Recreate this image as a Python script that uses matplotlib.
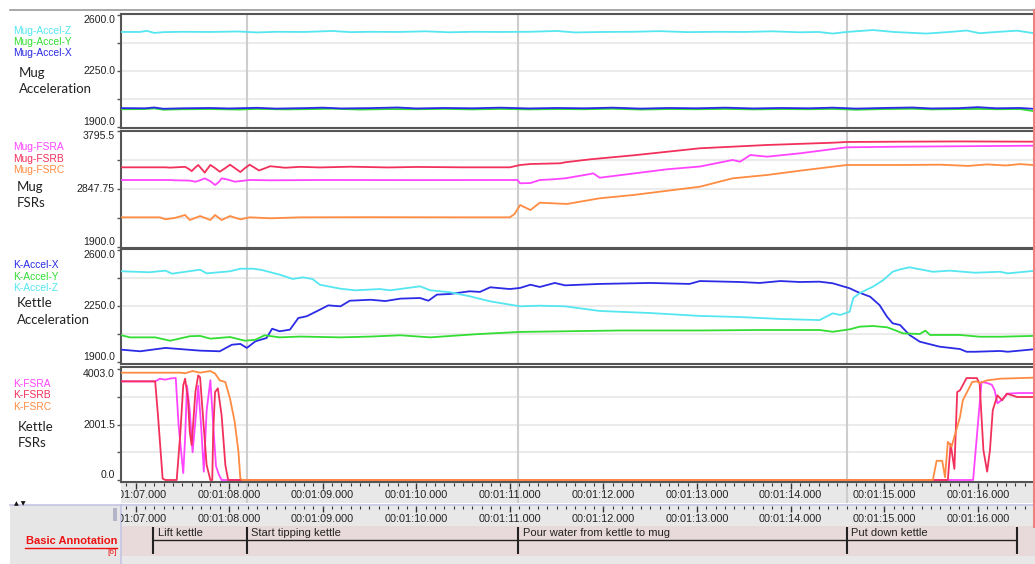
import matplotlib
matplotlib.use("Agg")
import matplotlib.pyplot as plt
from matplotlib.patches import Rectangle
from matplotlib.transforms import blended_transform_factory

# ---------------- data ----------------
x_range = (66.845, 76.59)
time_ticks = [67, 68, 69, 70, 71, 72, 73, 74, 75, 76]
time_labels = ["00:01:07.000", "00:01:08.000", "00:01:09.000", "00:01:10.000",
               "00:01:11.000", "00:01:12.000", "00:01:13.000", "00:01:14.000",
               "00:01:15.000", "00:01:16.000"]

annotation_names = ["Lift kettle", "Start tipping kettle",
                    "Pour water from kettle to mug", "Put down kettle"]
annotation_starts = [67.19, 68.19, 71.09, 74.60]
annotation_end = 76.42
marker_times = [68.19, 71.09, 74.60]

# Mug acceleration
mug_accel_z = [(66.85, 2494), (67.05, 2494), (67.12, 2501), (67.2, 2488), (67.3, 2493),
               (67.5, 2495), (67.8, 2494), (68.1, 2497), (68.3, 2491), (68.5, 2495),
               (68.8, 2494), (69.1, 2500), (69.3, 2493), (69.5, 2495), (69.8, 2494),
               (70.1, 2498), (70.35, 2492), (70.6, 2495), (70.9, 2494), (71.2, 2495),
               (71.5, 2500), (71.7, 2491), (72.0, 2494), (72.3, 2495), (72.6, 2499),
               (72.9, 2493), (73.2, 2495), (73.5, 2494), (73.8, 2498), (74.1, 2492),
               (74.3, 2494), (74.45, 2484), (74.6, 2494), (74.88, 2506), (75.1, 2494),
               (75.45, 2484), (75.7, 2494), (75.88, 2503), (76.02, 2486), (76.2, 2494),
               (76.42, 2502), (76.59, 2487)]
mug_accel_y = [(66.85, 2011), (67.1, 2012), (67.2, 2016), (67.3, 2008), (67.5, 2011),
               (67.8, 2012), (68.1, 2009), (68.3, 2013), (68.6, 2010), (68.9, 2012),
               (69.1, 2014), (69.4, 2009), (69.7, 2012), (70.0, 2011), (70.3, 2013),
               (70.6, 2010), (70.9, 2013), (71.2, 2010), (71.5, 2012), (71.8, 2011),
               (72.1, 2014), (72.4, 2009), (72.7, 2012), (73.0, 2011), (73.3, 2013),
               (73.6, 2010), (73.9, 2012), (74.2, 2011), (74.45, 2013), (74.7, 2008),
               (75.0, 2012), (75.3, 2014), (75.5, 2010), (75.8, 2012), (76.0, 2013),
               (76.2, 2011), (76.45, 2012), (76.59, 2000)]
mug_accel_x = [(66.85, 2018), (67.1, 2017), (67.2, 2022), (67.3, 2014), (67.5, 2017),
               (67.8, 2019), (68.0, 2016), (68.3, 2020), (68.5, 2015), (68.8, 2018),
               (69.0, 2021), (69.2, 2016), (69.5, 2018), (69.8, 2022), (70.0, 2016),
               (70.3, 2019), (70.6, 2017), (70.9, 2021), (71.2, 2016), (71.5, 2019),
               (71.8, 2017), (72.1, 2021), (72.4, 2015), (72.7, 2019), (73.0, 2017),
               (73.3, 2021), (73.6, 2016), (73.9, 2019), (74.2, 2017), (74.45, 2021),
               (74.7, 2015), (75.0, 2019), (75.3, 2022), (75.5, 2016), (75.8, 2018),
               (76.0, 2024), (76.2, 2017), (76.45, 2019), (76.59, 2014)]

# Mug FSRs
mug_fsra = [(66.85, 2995), (67.37, 2995), (67.42, 2990), (67.58, 2985), (67.64, 2967),
            (67.69, 2990), (67.74, 3022), (67.80, 2975), (67.85, 2913), (67.89, 2960),
            (67.92, 3022), (67.99, 3000), (68.06, 2967), (68.22, 2995),
            (68.44, 2990), (69.0, 2995), (70.0, 2993), (71.08, 2995), (71.11, 2941),
            (71.22, 2945), (71.32, 2995), (71.46, 3006), (71.59, 3022), (71.86, 3093),
            (71.89, 3104), (71.96, 3032), (72.68, 3170), (73.03, 3215), (73.38, 3322),
            (73.46, 3294), (73.57, 3403), (73.75, 3376), (74.10, 3431), (74.60, 3529),
            (75.17, 3539), (76.59, 3555)]
mug_fsrb = [(66.85, 3202), (67.32, 3202), (67.37, 3197), (67.53, 3210), (67.57, 3175),
            (67.60, 3140), (67.64, 3200), (67.67, 3240), (67.71, 3170), (67.74, 3115),
            (67.77, 3180), (67.80, 3240), (67.85, 3190), (67.90, 3130), (67.96, 3190),
            (68.01, 3245), (68.07, 3180), (68.12, 3125), (68.17, 3190), (68.22, 3245),
            (68.32, 3150), (68.44, 3220), (68.6, 3195),
            (68.76, 3210), (68.97, 3200), (69.3, 3212), (69.7, 3200), (70.0, 3208),
            (70.5, 3202), (71.0, 3202), (71.11, 3240), (71.22, 3256), (71.54, 3268),
            (71.59, 3284), (71.86, 3333), (72.32, 3398), (73.03, 3513), (73.75, 3567),
            (74.45, 3604), (74.60, 3616), (75.17, 3621), (75.8, 3625), (76.59, 3621)]
mug_fsrc = [(66.85, 2385), (67.26, 2385), (67.32, 2352), (67.42, 2375), (67.53, 2423),
            (67.58, 2341), (67.69, 2406), (67.80, 2341), (67.85, 2423), (67.92, 2341),
            (68.01, 2406), (68.12, 2352), (68.22, 2385), (68.44, 2369), (68.76, 2385),
            (69.5, 2387), (70.5, 2385), (71.00, 2385), (71.05, 2439), (71.11, 2586),
            (71.22, 2504), (71.32, 2624), (71.61, 2603), (71.96, 2696), (72.32, 2750),
            (73.03, 2885), (73.38, 3022), (73.75, 3077), (74.10, 3147), (74.45, 3212),
            (74.60, 3240), (75.17, 3240), (75.6, 3245), (75.9, 3225), (76.1, 3250),
            (76.3, 3232), (76.45, 3255), (76.59, 3240)]

# Kettle acceleration
k_accel_x = [(66.85, 1977), (67.05, 1967), (67.32, 1988), (67.69, 1971), (67.90, 1967),
             (68.03, 2008), (68.12, 2013), (68.19, 1988), (68.28, 2029), (68.40, 2050),
             (68.46, 2108), (68.54, 2092), (68.65, 2102), (68.74, 2175), (68.83, 2186),
             (68.97, 2227), (69.06, 2254), (69.19, 2248), (69.29, 2283), (69.51, 2289),
             (69.67, 2281), (69.83, 2296), (70.04, 2300), (70.13, 2283), (70.22, 2321),
             (70.36, 2325), (70.57, 2342), (70.68, 2338), (70.79, 2367), (71.00, 2356),
             (71.11, 2363), (71.22, 2383), (71.32, 2369), (71.48, 2394), (71.59, 2379),
             (71.96, 2388), (72.50, 2394), (72.92, 2388), (73.03, 2406), (73.46, 2400),
             (73.67, 2394), (73.89, 2406), (74.10, 2400), (74.31, 2402), (74.45, 2392),
             (74.63, 2361), (74.71, 2339), (74.85, 2308), (74.95, 2256), (75.03, 2183),
             (75.09, 2142), (75.17, 2131), (75.27, 2069), (75.38, 2027), (75.59, 1996),
             (75.81, 1981), (75.88, 1964), (75.97, 1964), (76.24, 1969), (76.32, 1964),
             (76.59, 1979)]
k_accel_y = [(66.85, 2067), (66.94, 2054), (67.21, 2054), (67.37, 2033), (67.58, 2061),
             (67.69, 2063), (67.80, 2046), (68.01, 2056), (68.17, 2033), (68.28, 2039),
             (68.38, 2067), (68.54, 2054), (68.76, 2059), (69.19, 2054), (69.51, 2059),
             (69.83, 2067), (70.15, 2054), (70.47, 2067), (70.68, 2075), (71.11, 2088),
             (71.59, 2092), (72.18, 2097), (73.03, 2097), (73.67, 2100), (74.31, 2100),
             (74.45, 2089), (74.63, 2104), (74.74, 2121), (74.88, 2125), (75.03, 2117),
             (75.11, 2100), (75.20, 2079), (75.38, 2075), (75.44, 2096), (75.49, 2069),
             (75.81, 2069), (76.02, 2058), (76.24, 2058), (76.59, 2063)]
k_accel_z = [(66.85, 2467), (67.15, 2461), (67.32, 2471), (67.39, 2452), (67.69, 2477),
             (67.76, 2454), (68.01, 2467), (68.12, 2483), (68.26, 2483), (68.35, 2475),
             (68.54, 2446), (68.68, 2419), (68.79, 2429), (68.89, 2419), (68.97, 2383),
             (69.19, 2358), (69.35, 2348), (69.61, 2356), (69.72, 2348), (70.04, 2373),
             (70.15, 2348), (70.36, 2336), (70.57, 2311), (70.79, 2279), (71.11, 2248),
             (71.32, 2252), (71.59, 2248), (71.96, 2219), (72.50, 2206), (73.03, 2188),
             (73.46, 2181), (73.89, 2169), (74.31, 2162), (74.45, 2204), (74.53, 2194),
             (74.63, 2214), (74.67, 2300), (74.74, 2331), (74.88, 2371), (74.99, 2412),
             (75.09, 2464), (75.17, 2479), (75.27, 2492), (75.52, 2464), (75.70, 2471),
             (75.97, 2458), (76.24, 2464), (76.32, 2454), (76.59, 2469)]

# Kettle FSRs
k_fsra = [(66.85, 3557), (67.21, 3557), (67.26, 3650), (67.32, 3620), (67.37, 3660),
          (67.43, 3680), (67.46, 2000), (67.51, 250), (67.53, 1500), (67.55, 3400),
          (67.58, 2500), (67.61, 1000), (67.65, 2500), (67.67, 3400), (67.70, 2000),
          (67.73, 300), (67.76, 2500), (67.80, 3600), (67.83, 2000), (67.86, 500),
          (67.89, 200), (67.92, 0), (75.95, 0), (76.04, 3533), (76.10, 3497),
          (76.15, 3437), (76.18, 3234), (76.21, 2766), (76.26, 2900), (76.32, 3115),
          (76.45, 3137), (76.59, 3137)]
k_fsrb = [(66.85, 3557), (67.21, 3557), (67.24, 2335), (67.29, 50), (67.32, 0),
          (67.44, 0), (67.48, 1735), (67.51, 3413), (67.53, 3654), (67.56, 2935),
          (67.58, 1735), (67.60, 1257), (67.64, 3173), (67.67, 3773), (67.69, 3700),
          (67.72, 2335), (67.76, 539), (67.80, 0), (67.82, 0), (67.83, 1735),
          (67.85, 3173), (67.88, 3305), (67.92, 2335), (67.96, 539), (67.99, 0),
          (75.68, 0), (75.71, 1300), (75.75, 400), (75.78, 3173), (75.81, 3234),
          (75.88, 3676), (75.99, 3676), (76.02, 3474), (76.06, 1078), (76.10, 300),
          (76.13, 1078), (76.16, 2515), (76.21, 3054), (76.26, 2874), (76.31, 3115),
          (76.42, 2993), (76.59, 2993)]
k_fsrc = [(66.85, 3870), (67.48, 3870), (67.53, 3850), (67.61, 3930), (67.69, 3870),
          (67.80, 3930), (67.85, 3840), (67.90, 3593), (67.96, 3533), (68.01, 2935),
          (68.06, 2095), (68.10, 1017), (68.12, 61), (68.14, 0), (75.52, 0),
          (75.56, 693), (75.62, 693), (75.65, 100), (75.68, 1376), (75.72, 1200),
          (75.81, 2275), (75.84, 2874), (75.94, 3533), (75.99, 3557), (76.02, 3497),
          (76.10, 3593), (76.24, 3654), (76.59, 3690)]

CYAN, GREEN, BLUE = "#55e6f0", "#33dd33", "#2b2be6"
MAGENTA, CRIMSON, ORANGE = "#ff44ff", "#f2305c", "#ff8c42"

panels = [
    dict(box=(121, 14, 1033, 128), px=(15, 127), rng=(1900, 2600),
         labels=["1900.0", "2250.0", "2600.0"], legend_y=30.7,
         title=("Mug", "Acceleration"), title_xy=(19, 72.7),
         series=[("Mug-Accel-Z", CYAN, mug_accel_z), ("Mug-Accel-Y", GREEN, mug_accel_y),
                 ("Mug-Accel-X", BLUE, mug_accel_x)]),
    dict(box=(121, 130.5, 1033, 247.5), px=(131, 247), rng=(1900, 3795.5),
         labels=["1900.0", "2847.75", "3795.5"], legend_y=147.3,
         title=("Mug", "FSRs"), title_xy=(17, 186.7),
         series=[("Mug-FSRA", MAGENTA, mug_fsra), ("Mug-FSRB", CRIMSON, mug_fsrb),
                 ("Mug-FSRC", ORANGE, mug_fsrc)]),
    dict(box=(121, 249, 1033, 364), px=(250, 362), rng=(1900, 2600),
         labels=["1900.0", "2250.0", "2600.0"], legend_y=265.3,
         title=("Kettle", "Acceleration"), title_xy=(17, 303),
         series=[("K-Accel-X", BLUE, k_accel_x), ("K-Accel-Y", GREEN, k_accel_y),
                 ("K-Accel-Z", CYAN, k_accel_z)]),
    dict(box=(121, 367, 1033, 482), px=(369, 480), rng=(0, 4003),
         labels=["0.0", "2001.5", "4003.0"], legend_y=384.3,
         title=("Kettle", "FSRs"), title_xy=(18, 426.7),
         series=[("K-FSRA", MAGENTA, k_fsra), ("K-FSRB", CRIMSON, k_fsrb),
                 ("K-FSRC", ORANGE, k_fsrc)]),
]

# ---------------- figure ----------------
W, H = 1035, 564
plt.rcParams["font.family"] = ["Liberation Sans", "DejaVu Sans"]
fig = plt.figure(figsize=(W / 100, H / 100), dpi=100)
fig.patch.set_facecolor("white")


def px_rect(x0, y0, x1, y1):
    return [x0 / W, 1 - y1 / H, (x1 - x0) / W, (y1 - y0) / H]


ax_bg = fig.add_axes([0, 0, 1, 1], zorder=-5)
ax_bg.set_xlim(0, W)
ax_bg.set_ylim(H, 0)
ax_bg.axis("off")


def box(ax, x0, y0, x1, y1, fc):
    ax.add_patch(Rectangle((x0, y0), x1 - x0, y1 - y0, facecolor=fc, edgecolor="none"))


box(ax_bg, 121, 483, 1035, 503, "#e8e8e8")
box(ax_bg, 121, 506, 1035, 526, "#e8e8e8")
box(ax_bg, 10, 505, 121, 564, "#e6e6e6")
box(ax_bg, 121, 526, 1035, 556, "#e8d9da")
box(ax_bg, 121, 556, 1035, 564, "#e8e8e8")
box(ax_bg, 113, 508, 117, 521, "#b4b4c8")
ax_bg.plot([10, 1035], [10, 10], color="#9a9a9a", lw=1.2)
ax_bg.plot([10, 1035], [504.7, 504.7], color="#c4c4e4", lw=1.2)
ax_bg.plot([121, 121], [505, 564], color="#c4c4e4", lw=1.2)

for spec in panels:
    x0, y0, x1, y1 = spec["box"]
    ax = fig.add_axes(px_rect(x0, y0, x1, y1))
    lo, hi = spec["rng"]
    ptop, pbot = spec["px"]
    s = (hi - lo) / (pbot - ptop)
    ax.set_ylim(lo - (y1 - pbot) * s, hi + (ptop - y0) * s)
    ax.set_xlim(*x_range)
    ticks = [lo + (hi - lo) * k / 4 for k in range(5)]
    ax.set_yticks(ticks)
    ax.set_yticklabels([])
    ax.set_xticks([])
    ax.tick_params(axis="y", direction="out", length=3, width=1, color="#555")
    for k in (1, 2, 3):
        ax.axhline(ticks[k], color="#ebebeb", lw=1.5, zorder=0)
    for t in marker_times:
        ax.axvline(t, color="#cdcdcd", lw=1.5, zorder=1)
    for name, color, pairs in spec["series"]:
        ax.plot([p[0] for p in pairs], [p[1] for p in pairs], color=color, lw=1.3, zorder=3)
    trans = blended_transform_factory(ax.transAxes, ax.transData)
    lab = spec["labels"]
    for v, txt, va in zip([ticks[0], ticks[2], ticks[4]], lab, ["bottom", "center", "top"]):
        ax.text(-6.0 / 912, v, txt, transform=trans, ha="right", va=va,
                fontsize=7.6, color="#222")
    for side in ("top", "bottom", "left"):
        ax.spines[side].set_color("#555")
        ax.spines[side].set_linewidth(1.5)
    ax.spines["right"].set_visible(False)
    # legend-like labels on the left
    for i, (name, color, _) in enumerate(spec["series"]):
        ax_bg.text(13.5, spec["legend_y"] + i * 11.2, name, color=color, fontsize=7.4,
                   ha="left", va="center")
    tx, ty = spec["title_xy"]
    ax_bg.text(tx, ty, spec["title"][0], fontsize=9.5, family=["Lato", "DejaVu Sans"],
               color="#222", ha="left", va="center")
    ax_bg.text(tx, ty + 16.6, spec["title"][1], fontsize=9.5, family=["Lato", "DejaVu Sans"],
               color="#222", ha="left", va="center")

# time strips
minor_ticks = [66.9 + 0.1 * i for i in range(97)]
for (y0, y1, ly, gray) in [(483, 503, 0.4, True), (506, 526, 0.35, False)]:
    sa = fig.add_axes(px_rect(121, y0, 1033, y1))
    sa.set_xlim(*x_range)
    sa.set_ylim(0, 1)
    sa.patch.set_alpha(0)
    for sp in sa.spines.values():
        sp.set_visible(False)
    sa.set_yticks([])
    sa.xaxis.tick_top()
    sa.set_xticks(time_ticks)
    sa.set_xticks(minor_ticks, minor=True)
    sa.tick_params(axis="x", which="major", direction="in", length=4.5, width=1,
                   color="#333", labeltop=False, labelbottom=False)
    sa.tick_params(axis="x", which="minor", direction="in", length=1.8, width=0.8,
                   color="#333")
    if gray:
        for t in marker_times:
            sa.axvline(t, color="#cdcdcd", lw=1.5, zorder=0)
    for t, lab in zip(time_ticks, time_labels):
        sa.text(t, ly, lab, ha="center", va="center", fontsize=7.8, color="#222",
                clip_on=True)

# annotation track
aa = fig.add_axes(px_rect(121, 526, 1033, 556))
aa.set_xlim(*x_range)
aa.set_ylim(556, 526)
aa.axis("off")
aa.hlines(540, annotation_starts[0], annotation_end, color="#222", lw=1)
aa.vlines(annotation_starts + [annotation_end], 527, 554, color="#222", lw=1.5)
for name, t in zip(annotation_names, annotation_starts):
    aa.annotate(name, (t, 533.5), xytext=(3.2, 0), textcoords="offset points",
                fontsize=8, ha="left", va="center", color="#222")

# foreground overlay
ax_fg = fig.add_axes([0, 0, 1, 1], zorder=10)
ax_fg.set_xlim(0, W)
ax_fg.set_ylim(H, 0)
ax_fg.axis("off")
ax_fg.plot([1033.5, 1033.5], [10, 526], color="#f08080", lw=2.2)
ax_fg.text(117, 541.5, "Basic Annotation", ha="right", va="center", fontsize=8,
           fontweight="bold", color="#ee1111")
ax_fg.plot([25, 117], [547.5, 547.5], color="#ee1111", lw=1)
ax_fg.text(116.5, 553, "[6]", ha="right", va="center", fontsize=6, color="#ee1111")
ax_fg.text(19.5, 503.5, "▲ ▼", ha="center", va="center", fontsize=4.5,
           family=["DejaVu Sans"], color="#111")

fig.savefig("out.png", dpi=100)
